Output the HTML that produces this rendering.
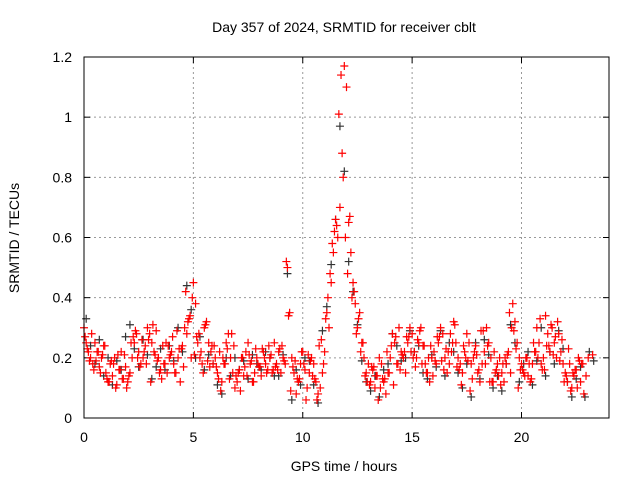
<!DOCTYPE html>
<html><head><meta charset="utf-8"><style>
body{margin:0;background:#fff;}
svg{display:block;font-family:"Liberation Sans",sans-serif;}
</style></head><body>
<svg id="chart" width="640" height="480" viewBox="0 0 640 480">
<text x="344" y="32" font-size="14" text-anchor="middle">Day 357 of 2024, SRMTID for receiver cblt</text>
<text transform="translate(19,238) rotate(-90)" font-size="14" text-anchor="middle">SRMTID / TECUs</text>
<text x="344" y="471" font-size="14" text-anchor="middle">GPS time / hours</text>
<g id="grid"></g>
<g id="ticks"></g>
<g id="black"></g>
<g id="red"></g>
<rect x="84" y="57" width="525" height="361" fill="none" stroke="#000" stroke-width="1"/>
</svg>
<script>
const xTicks=[0,5,10,15,20];
const yTicks=[0,0.2,0.4,0.6,0.8,1,1.2];
const yTickLabels=["0","0.2","0.4","0.6","0.8","1","1.2"];
const redStep=0.1;
const redValues=[
.30,.25,.22,.20,.18,.25,.22,.17,.20,.24,
.15,.12,.18,.14,.20,.11,.16,.22,.13,.17,
.12,.15,.20,.25,.28,.22,.18,.20,.24,.30,
.28,.25,.22,.29,.20,.16,.24,.18,.15,.20,
.22,.18,.15,.20,.12,.24,.30,.28,.33,.20,
.45,.38,.25,.20,.18,.30,.32,.25,.22,.18,
.20,.15,.22,.12,.18,.25,.28,.20,.15,.10,
.12,.16,.20,.14,.22,.25,.18,.12,.15,.20,
.17,.14,.22,.18,.16,.20,.15,.25,.18,.22,
.15,.20,.18,.50,.35,.20,.15,.08,.12,.18,
.22,.16,.10,.15,.20,.18,.12,.08,.10,.15,
.22,.35,.30,.45,.55,.66,.60,.70,.88,1.17,
1.10,.65,.55,.45,.38,.30,.35,.25,.20,.15,
.18,.12,.16,.10,.14,.20,.18,.12,.08,.15,
.20,.28,.25,.18,.30,.22,.20,.15,.25,.30,
.28,.22,.20,.25,.30,.24,.18,.15,.12,.20,
.22,.18,.25,.30,.28,.20,.15,.18,.22,.32,
.25,.20,.18,.15,.22,.28,.25,.18,.20,.24,
.15,.12,.18,.22,.30,.25,.20,.12,.15,.18,
.20,.15,.12,.18,.22,.15,.38,.32,.25,.20,
.18,.15,.20,.14,.12,.18,.22,.30,.25,.18,
.20,.34,.28,.22,.30,.25,.20,.28,.22,.18,
.15,.12,.18,.10,.14,.16,.20,.12,.18];
const red2Start=0.05;
const red2Step=0.2;
const red2Values=[
.27,.19,.16,.22,.21,.13,.19,.10,.16,.21,.14,.27,.20,.26,.18,.12,.21,.15,.18,.24,.27,.29,.23,.42,
.34,.21,.28,.15,.19,.24,.17,.09,.18,.13,.24,.15,.20,.14,.19,.23,.17,.20,.24,.16,.16,.24,.52,.09,
.19,.13,.18,.21,.14,.06,.26,.33,.48,.62,1.01,.80,.48,.40,.28,.22,.14,.11,.17,.06,.13,.22,.24,.27,
.16,.22,.27,.20,.26,.18,.15,.24,.19,.27,.16,.22,.25,.17,.11,.20,.09,.22,.16,.29,.24,.12,.16,.11,
.20,.35,.29,.10,.16,.20,.13,.22,.33,.16,.24,.21,.32,.26,.14,.09,.16,.19,.08,.20,.21];
const red3Start=0.15;
const red3Step=0.2;
const red3Values=[
.23,.28,.19,.15,.24,.12,.18,.21,.13,.10,.25,.29,.17,.22,.26,.31,.19,.13,.25,.21,.15,.23,.17,.32,
.40,.27,.22,.31,.17,.24,.13,.20,.23,.28,.14,.09,.17,.21,.12,.18,.23,.15,.21,.17,.23,.19,.34,.17,
.13,.22,.06,.19,.13,.24,.18,.40,.58,.64,1.14,.60,.67,.42,.33,.25,.12,.17,.14,.10,.13,.15,.11,.18,
.21,.27,.22,.17,.29,.24,.20,.14,.27,.19,.23,.28,.31,.16,.24,.19,.13,.21,.29,.18,.12,.22,.14,.18,
.21,.30,.23,.16,.14,.18,.25,.20,.16,.24,.31,.27,.19,.12,.23,.15,.10,.18,.14];
const blackStep=0.2;
const blackValues=[
.33,.24,.18,.26,.14,.20,.11,.19,.16,.27,.31,.23,.17,.26,.21,.13,.17,.23,.16,.24,.19,.30,.22,.44,
.36,.20,.27,.16,.21,.18,.11,.08,.20,.14,.20,.16,.19,.13,.21,.18,.16,.22,.20,.14,.14,.21,.48,.06,
.16,.11,.20,.19,.11,.05,.29,.37,.51,.66,.97,.82,.52,.42,.31,.19,.12,.09,.14,.07,.16,.18,.28,.24,
.19,.20,.29,.22,.24,.15,.13,.21,.17,.29,.14,.25,.22,.15,.10,.18,.07,.25,.13,.26,.21,.10,.14,.09,
.18,.31,.25,.12,.18,.22,.11,.19,.30,.14,.22,.18,.29,.23,.12,.07,.13,.17,.07,.22,.19];
const X0=84,X1=609,Y0=418,Y1=57,XMAX=24,YMAX=1.2;
function xs(v){return X0+(X1-X0)*v/XMAX;}
function ys(v){return Y0-(Y0-Y1)*v/YMAX;}
const NS="http://www.w3.org/2000/svg";
const grid=document.getElementById('grid'),ticks=document.getElementById('ticks');
function line(g,x1,y1,x2,y2,st,dash){const l=document.createElementNS(NS,'line');l.setAttribute('x1',x1);l.setAttribute('y1',y1);l.setAttribute('x2',x2);l.setAttribute('y2',y2);l.setAttribute('stroke',st);if(dash)l.setAttribute('stroke-dasharray',dash);g.appendChild(l);return l;}
function text(g,x,y,s,anchor){const t=document.createElementNS(NS,'text');t.setAttribute('x',x);t.setAttribute('y',y);t.setAttribute('font-size','14');t.setAttribute('text-anchor',anchor);t.textContent=s;g.appendChild(t);return t;}
xTicks.forEach(v=>{const x=xs(v);
 if(v>0){const gl=line(grid,x,Y1,x,Y0,'#999','2,3');
 
 }
 line(ticks,x,Y0,x,Y0-6,'#000');line(ticks,x,Y1,x,Y1+6,'#000');
 const t=text(ticks,x,442,String(v),'middle');
 
 });
yTicks.forEach((v,i)=>{const y=ys(v);
 if(v>0&&v<YMAX){const gl=line(grid,X0,y,X1,y,'#999','2,3');
 
 }
 line(ticks,X0,y,X0+6,y,'#000');line(ticks,X1,y,X1-6,y,'#000');
 const t=text(ticks,72,y+5,yTickLabels[i],'end');
 
 });
function plus(g,x,y,c){const p=document.createElementNS(NS,'path');p.setAttribute('d',`M${x-4} ${y}h8M${x} ${y-4}v8`);p.setAttribute('stroke',c);p.setAttribute('stroke-width','1.2');g.appendChild(p);return p;}
const bg=document.getElementById('black'),rg=document.getElementById('red');
blackValues.forEach((v,i)=>{const p=plus(bg,xs(0.1+i*blackStep),ys(v),'#333');
 
 });
redValues.forEach((v,i)=>{const p=plus(rg,xs(i*redStep),ys(v),'#f00');
 
 });
red2Values.forEach((v,i)=>{const p=plus(rg,xs(red2Start+i*red2Step),ys(v),'#f00');
 
 });
red3Values.forEach((v,i)=>{const p=plus(rg,xs(red3Start+i*red3Step),ys(v),'#f00');
 
 });
</script>
</body></html>
